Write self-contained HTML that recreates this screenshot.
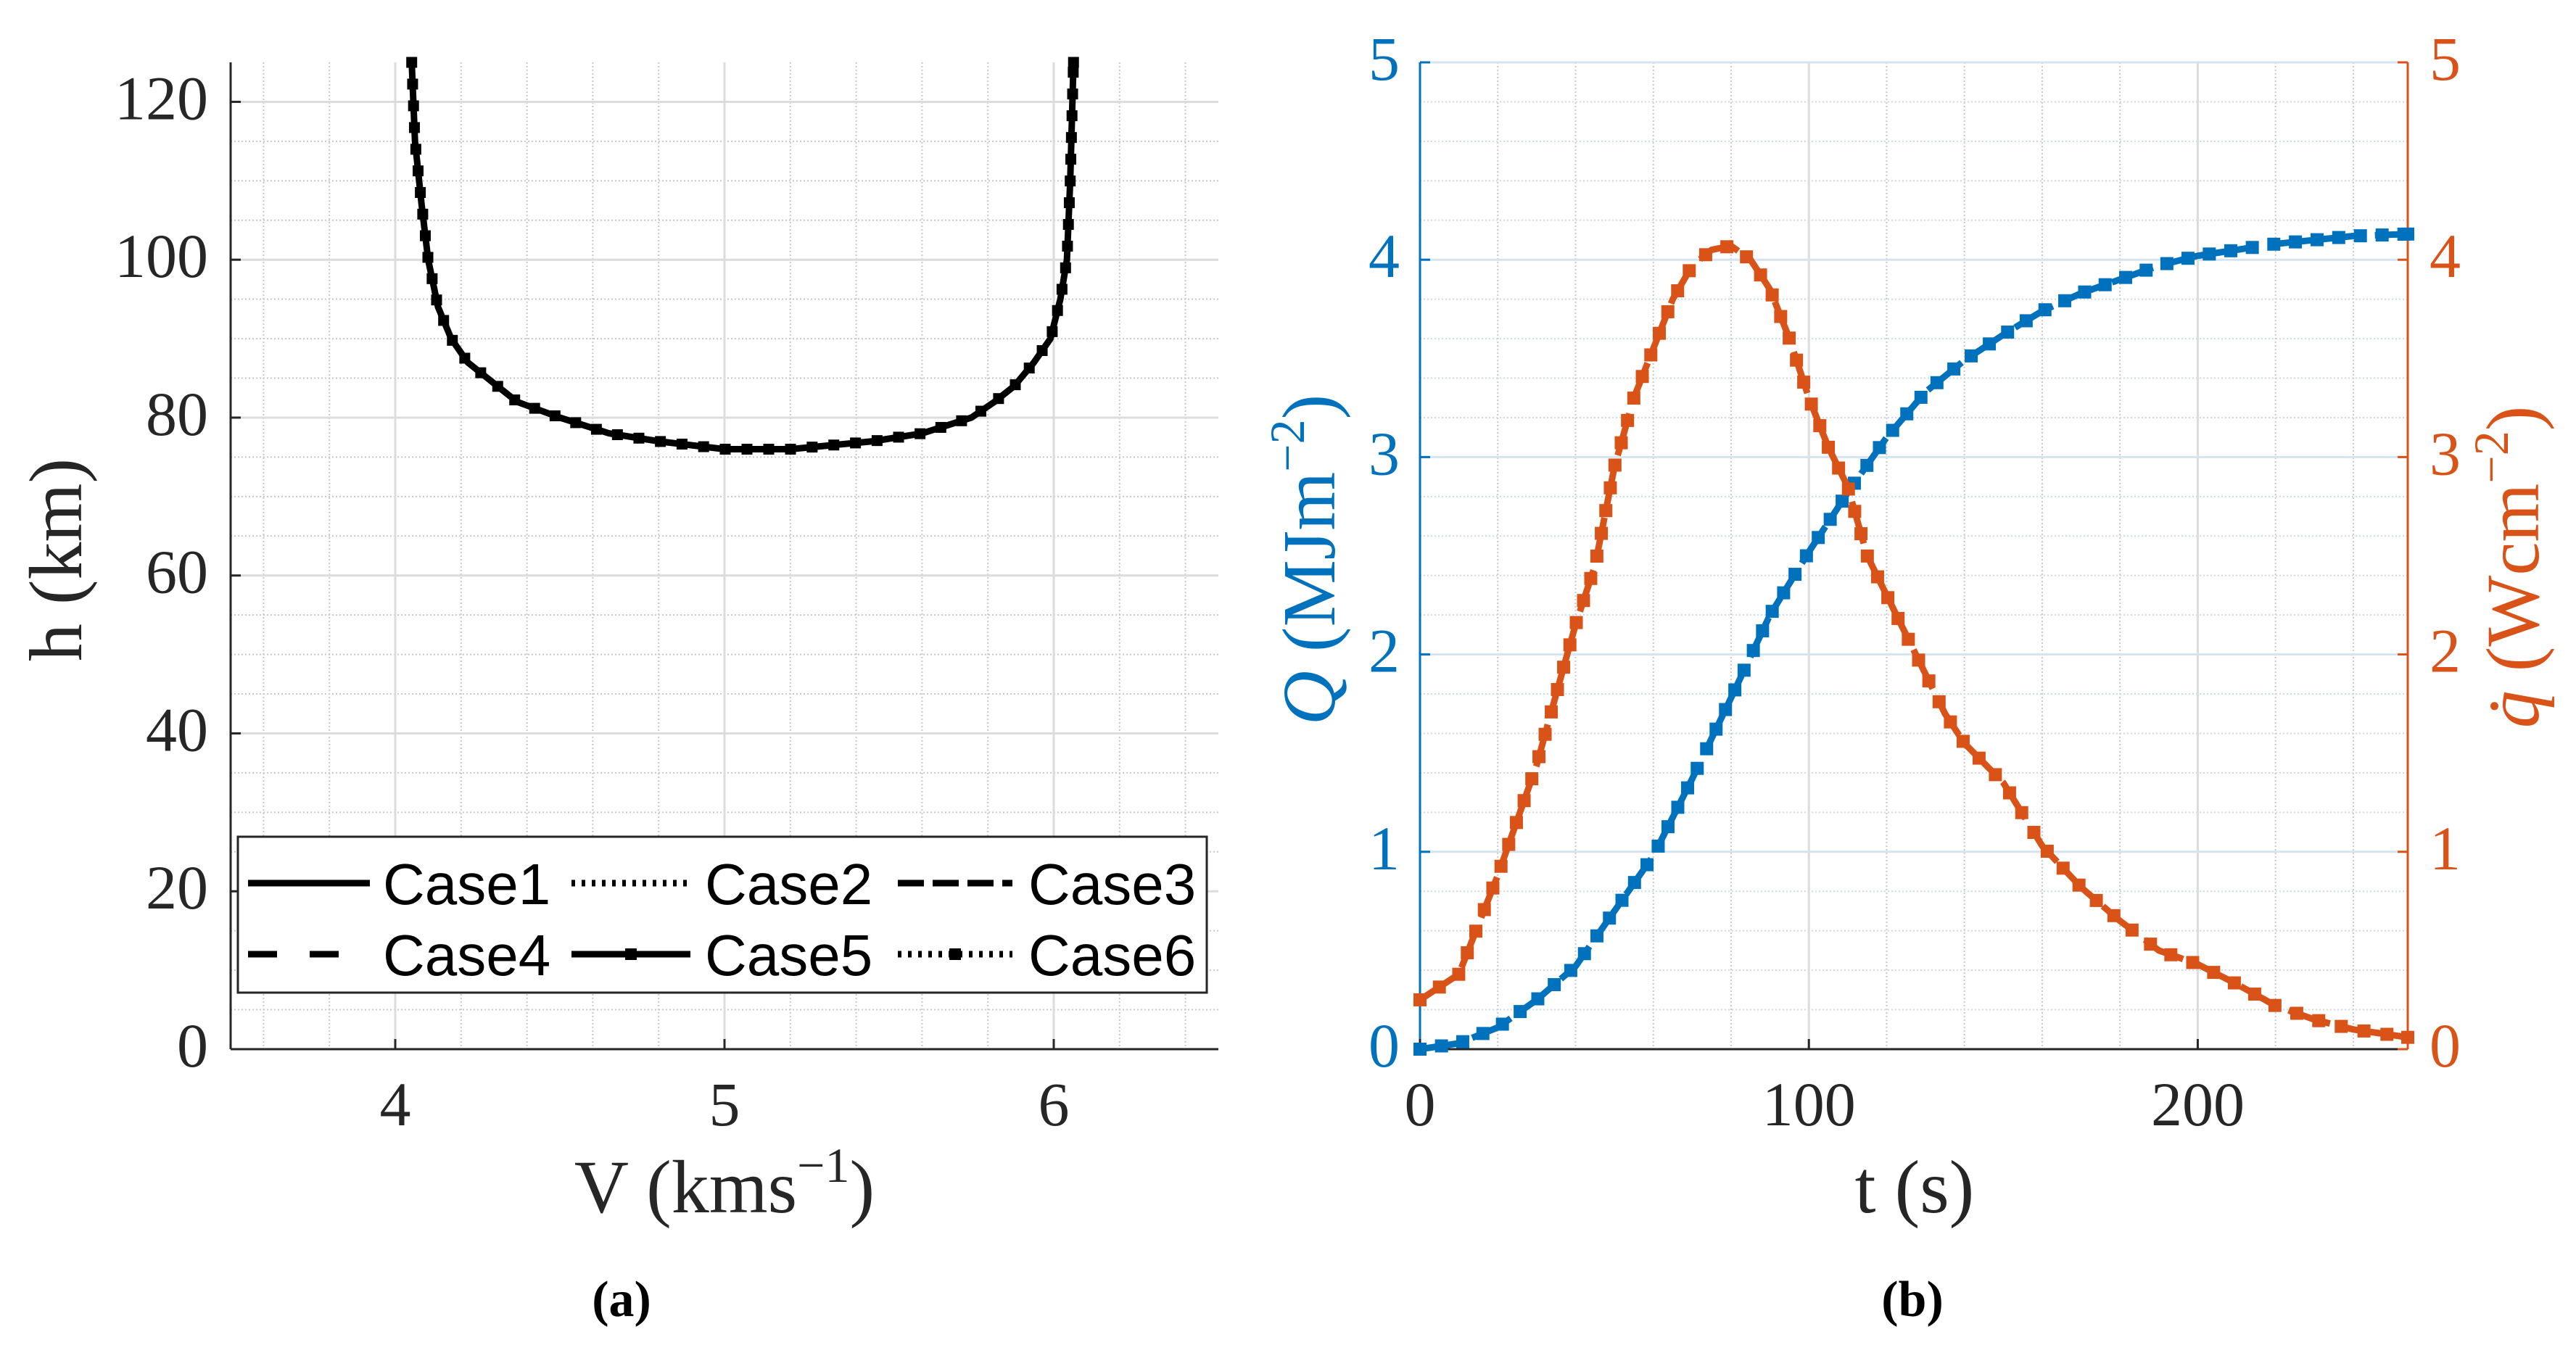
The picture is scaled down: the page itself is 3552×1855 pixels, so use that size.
<!DOCTYPE html>
<html><head><meta charset="utf-8"><style>
html,body{margin:0;padding:0;background:#fff;}
svg{display:block;font-family:"Liberation Serif",serif;}
</style></head><body>
<svg id="fig" width="3552" height="1855" viewBox="0 0 3552 1855" xmlns="http://www.w3.org/2000/svg"></svg>
<script>
// ---- Panel (a) data ----
const trajV = [4.05,4.06,4.08,4.1,4.13,4.17,4.22,4.28,4.37,4.5,4.65,4.8,5.0,5.2,5.45,5.6,5.75,5.82,5.88,5.94,5.99,6.02,6.04,6.05,6.06];
const trajH = [125,115,107,100,94,90,87,85,82,80,78,77,76,76,77,78,80,82,84,87,90,95,100,110,125];
const aXTicks = [4,5,6];
const aYTicks = [0,20,40,60,80,100,120];
const legendLabels = ["Case1","Case2","Case3","Case4","Case5","Case6"];
// ---- Panel (b) data ----
const tQ = [0,10,20,30,40,50,60,70,80,90,100,110,120,130,140,150,160,170,180,190,200,210,220,230,240,254];
const Qvals = [0,0.03,0.11,0.25,0.42,0.7,0.98,1.37,1.78,2.2,2.52,2.82,3.1,3.33,3.49,3.62,3.74,3.83,3.9,3.97,4.02,4.05,4.08,4.1,4.12,4.13];
const tq = [0,10,20,30,37,40,45,50,55,60,65,70,75,80,85,90,95,100,105,110,115,120,125,130,135,140,150,160,170,180,190,200,210,220,230,240,254];
const qvals = [0.25,0.38,0.88,1.44,1.94,2.15,2.45,2.95,3.3,3.55,3.8,3.97,4.05,4.07,4.0,3.85,3.6,3.3,3.05,2.85,2.5,2.3,2.1,1.9,1.7,1.55,1.35,1.03,0.82,0.65,0.5,0.43,0.33,0.22,0.15,0.1,0.06];
const bXTicks = [0,100,200];
const bYTicks = [0,1,2,3,4,5];

const NS="http://www.w3.org/2000/svg";
const svg=document.getElementById('fig');
function mk(tag,attrs,parent){const e=document.createElementNS(NS,tag);for(const k in attrs)e.setAttribute(k,attrs[k]);(parent||svg).appendChild(e);return e;}

function markersAlong(pts,step,color,size,g){
  const out=[pts[0]];let carry=0;
  for(let i=1;i<pts.length;i++){
    const [x0,y0]=pts[i-1],[x1,y1]=pts[i];const L=Math.hypot(x1-x0,y1-y0);
    let d=step-carry;
    while(d<=L){out.push([x0+(x1-x0)*d/L,y0+(y1-y0)*d/L]);d+=step;}
    carry=L-(d-step);
  }
  out.push(pts[pts.length-1]);
  out.forEach(p=>{const r=mk('rect',{x:p[0]-size/2,y:p[1]-size/2,width:size,height:size,fill:color},g);
    
    });
}

const FT=86, FL=104;
// ================= Panel (a) =================
const A={l:318,r:1680,t:86,b:1447,x0:3.5,x1:6.5,y0:0,y1:125};
const ax=v=>A.l+(v-A.x0)/(A.x1-A.x0)*(A.r-A.l);
const ay=v=>A.b-(v-A.y0)/(A.y1-A.y0)*(A.b-A.t);
const gA=mk('g',{});


for(let v=3.6;v<6.5;v+=0.2){if(Math.abs(v-Math.round(v))<0.01)continue;mk('line',{x1:ax(v),x2:ax(v),y1:A.t,y2:A.b,stroke:'#c8c8c8','stroke-width':2,'stroke-dasharray':'2 3'},gA);}
for(let v=5;v<125;v+=5){if(v%20===0)continue;mk('line',{x1:A.l,x2:A.r,y1:ay(v),y2:ay(v),stroke:'#c8c8c8','stroke-width':2,'stroke-dasharray':'2 3'},gA);}
aXTicks.forEach(v=>mk('line',{x1:ax(v),x2:ax(v),y1:A.t,y2:A.b,stroke:'#dcdcdc','stroke-width':3},gA));
aYTicks.forEach(v=>mk('line',{x1:A.l,x2:A.r,y1:ay(v),y2:ay(v),stroke:'#dcdcdc','stroke-width':3},gA));
mk('line',{x1:A.l,x2:A.r,y1:A.b,y2:A.b,stroke:'#262626','stroke-width':3},gA);
mk('line',{x1:A.l,x2:A.l,y1:A.t,y2:A.b,stroke:'#262626','stroke-width':3},gA);
aXTicks.forEach(v=>{mk('line',{x1:ax(v),x2:ax(v),y1:A.b,y2:A.b-14,stroke:'#262626','stroke-width':3},gA);
  const t=mk('text',{x:ax(v),y:1552,'font-size':FT,'text-anchor':'middle',fill:'#262626'},gA);t.textContent=v;
  
  });
aYTicks.forEach(v=>{mk('line',{x1:A.l,x2:A.l+14,y1:ay(v),y2:ay(v),stroke:'#262626','stroke-width':3},gA);
  const t=mk('text',{x:287,y:ay(v)+24,'font-size':FT,'text-anchor':'end',fill:'#262626'},gA);t.textContent=v;
  
  });
const trajPts=trajV.map((v,i)=>[ax(v),ay(trajH[i])]);
const cur=mk('polyline',{points:trajPts.map(p=>p.join(',')).join(' '),fill:'none',stroke:'#000','stroke-width':9,'stroke-linejoin':'round'},gA);


markersAlong(trajPts,30,'#000',15,gA);
// legend
const lg=mk('g',{},gA);


mk('rect',{x:328,y:1154,width:1336,height:215,fill:'#fff',stroke:'#262626','stroke-width':3},lg);
const cols=[[342,510,528],[788,952,972],[1238,1396,1418]];
const rows=[1218,1316];
const dashes=['none','5 9','36 12','40 45','none','5 9'];
legendLabels.forEach((lab,i)=>{
  const c=cols[i%3],y=rows[Math.floor(i/3)];
  const le=mk('g',{},lg);
  
  
  mk('line',{x1:c[0],x2:c[1],y1:y,y2:y,stroke:'#000','stroke-width':9,'stroke-dasharray':dashes[i]},le);
  if(i>=4) mk('rect',{x:(c[0]+c[1])/2-8,y:y-8,width:16,height:16,fill:'#000'},le);
  const t=mk('text',{x:c[2],y:y+29,'font-size':80,'font-family':'"Liberation Sans",sans-serif',fill:'#000'},le);t.textContent=lab;
});
let t=mk('text',{x:999,y:1672,'font-size':FL,'text-anchor':'middle',fill:'#262626'},gA);
t.innerHTML='V  (kms<tspan dy="-42" font-size="68">−1</tspan><tspan dy="42">)</tspan>';

t=mk('text',{x:0,y:0,'font-size':FL,'text-anchor':'middle',fill:'#262626',transform:'translate(112,772) rotate(-90)'},gA);
t.textContent='h  (km)';

t=mk('text',{x:857,y:1815,'font-size':70,'text-anchor':'middle','font-weight':'bold',fill:'#000'},gA);
t.textContent='(a)';


// ================= Panel (b) =================
const B={l:1958,r:3320,t:86,b:1447,x0:0,x1:254,y0:0,y1:5};
const bx=v=>B.l+(v-B.x0)/(B.x1-B.x0)*(B.r-B.l);
const by=v=>B.b-(v-B.y0)/(B.y1-B.y0)*(B.b-B.t);
const gB=mk('g',{});


for(let v=20;v<254;v+=20){if(v%100===0)continue;mk('line',{x1:bx(v),x2:bx(v),y1:B.t,y2:B.b,stroke:'#c8c8c8','stroke-width':2,'stroke-dasharray':'2 3'},gB);}
for(let v=0.2;v<5;v+=0.2){if(Math.abs(v-Math.round(v))<0.01)continue;mk('line',{x1:B.l,x2:B.r,y1:by(v),y2:by(v),stroke:'#c6dcec','stroke-width':2,'stroke-dasharray':'2 3'},gB);}
bXTicks.forEach(v=>mk('line',{x1:bx(v),x2:bx(v),y1:B.t,y2:B.b,stroke:'#dcdcdc','stroke-width':3},gB));
bYTicks.forEach(v=>mk('line',{x1:B.l,x2:B.r,y1:by(v),y2:by(v),stroke:'#d4e4f0','stroke-width':3},gB));
mk('line',{x1:B.l,x2:B.r,y1:B.b,y2:B.b,stroke:'#262626','stroke-width':3},gB);
mk('line',{x1:B.l,x2:B.l,y1:B.t,y2:B.b,stroke:'#0072BD','stroke-width':3},gB);
mk('line',{x1:B.r,x2:B.r,y1:B.t,y2:B.b,stroke:'#D95319','stroke-width':3},gB);
bXTicks.forEach(v=>{mk('line',{x1:bx(v),x2:bx(v),y1:B.b,y2:B.b-14,stroke:'#262626','stroke-width':3},gB);
  const t=mk('text',{x:bx(v),y:1552,'font-size':FT,'text-anchor':'middle',fill:'#262626'},gB);t.textContent=v;
  
  });
bYTicks.forEach(v=>{
  mk('line',{x1:B.l,x2:B.l+14,y1:by(v),y2:by(v),stroke:'#0072BD','stroke-width':3},gB);
  mk('line',{x1:B.r,x2:B.r-14,y1:by(v),y2:by(v),stroke:'#D95319','stroke-width':3},gB);
  let t=mk('text',{x:1930,y:by(v)+24,'font-size':FT,'text-anchor':'end',fill:'#0072BD'},gB);t.textContent=v;
  
  
  t=mk('text',{x:3350,y:by(v)+24,'font-size':FT,'text-anchor':'start',fill:'#D95319'},gB);t.textContent=v;
  
  });
const QPts=tQ.map((v,i)=>[bx(v),by(Qvals[i])]);
let ln=mk('polyline',{points:QPts.map(p=>p.join(',')).join(' '),fill:'none',stroke:'#0072BD','stroke-width':9,'stroke-dasharray':'60 14'},gB);


markersAlong(QPts,30,'#0072BD',18,gB);
const qPts=tq.map((v,i)=>[bx(v),by(qvals[i])]);
ln=mk('polyline',{points:qPts.map(p=>p.join(',')).join(' '),fill:'none',stroke:'#D95319','stroke-width':9,'stroke-dasharray':'60 14'},gB);


markersAlong(qPts,32,'#D95319',18,gB);
t=mk('text',{x:2640,y:1672,'font-size':FL,'text-anchor':'middle',fill:'#262626'},gB);
t.textContent='t  (s)';

t=mk('text',{x:0,y:0,'font-size':FL,'text-anchor':'middle',fill:'#0072BD',transform:'translate(1840,772) rotate(-90)'},gB);
t.innerHTML='<tspan font-style="italic">Q</tspan>  (MJm<tspan dy="-42" font-size="68">−2</tspan><tspan dy="42">)</tspan>';

t=mk('text',{x:0,y:0,'font-size':FL,'text-anchor':'middle',fill:'#D95319',transform:'translate(3500,782) rotate(-90)'},gB);
t.innerHTML='<tspan font-style="italic">q̇</tspan>  (Wcm<tspan dy="-42" font-size="68">−2</tspan><tspan dy="42">)</tspan>';

t=mk('text',{x:2637,y:1815,'font-size':70,'text-anchor':'middle','font-weight':'bold',fill:'#000'},gB);
t.textContent='(b)';

</script>
</body></html>
